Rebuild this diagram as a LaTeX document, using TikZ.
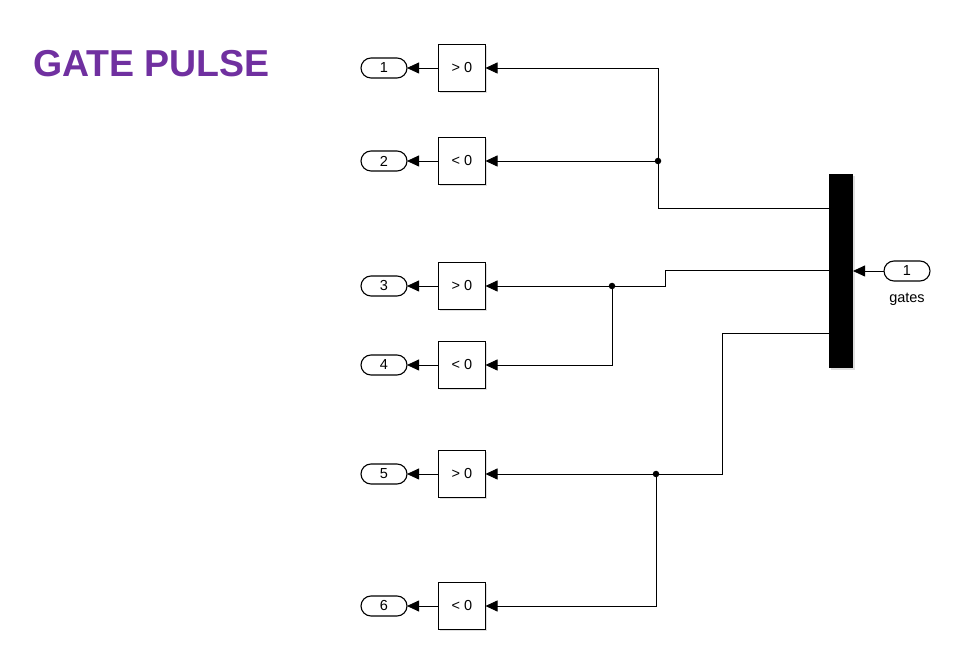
\documentclass[tikz,border=0pt]{standalone}
\usepackage{fontspec}
\setmainfont{Liberation Sans}
\usetikzlibrary{positioning,arrows.meta,shadows}
\definecolor{gatepurple}{RGB}{112,48,160}

\begin{document}
\begin{tikzpicture}
[x=1pt,y=1pt,
 every node/.style={inner sep=0pt,outer sep=0pt,font=\fontsize{14.5pt}{16pt}\selectfont},
 cmp/.style={rectangle,draw=black,line width=0.9pt,fill=white,minimum size=47pt,
             drop shadow={shadow xshift=1.5pt,shadow yshift=-1.5pt,opacity=0.25}},
 port/.style={rectangle,draw=black,line width=1.1pt,fill=white,rounded corners=10pt,
              minimum width=46pt,minimum height=20pt},
 bus/.style={rectangle,fill=black,minimum width=24pt,minimum height=194pt,
             drop shadow={shadow xshift=2pt,shadow yshift=-2pt,opacity=0.25}},
 dot/.style={circle,fill=black,minimum size=6.5pt},
 wire/.style={line width=0.8pt},
 sig/.style={wire,-{Triangle[length=12pt,width=11pt]}}]
\useasboundingbox (0,0) rectangle (971,664);

\node[anchor=base west,font=\fontsize{37.5pt}{40pt}\selectfont\bfseries,text=gatepurple]
     (title) at (33,587) {GATE PULSE};

% compare blocks
\node[cmp] (g1) at (462,596)                {> 0};
\node[cmp] (g2) [on grid,below=93pt of g1]  {< 0};
\node[cmp] (g3) [on grid,below=125pt of g2] {> 0};
\node[cmp] (g4) [on grid,below=79pt of g3]  {< 0};
\node[cmp] (g5) [on grid,below=109pt of g4] {> 0};
\node[cmp] (g6) [on grid,below=132pt of g5] {< 0};

% outports
\node[port] (o1) [on grid,left=78pt of g1] {1};
\node[port] (o2) [on grid,left=78pt of g2] {2};
\node[port] (o3) [on grid,left=78pt of g3] {3};
\node[port] (o4) [on grid,left=78pt of g4] {4};
\node[port] (o5) [on grid,left=78pt of g5] {5};
\node[port] (o6) [on grid,left=78pt of g6] {6};

% demux and inport
\node[bus]  (dmx) at (841,393) {};
\node[port] (in1) [on grid,right=66pt of dmx] {1};
\node       (lbl) [on grid,below=28pt of in1] {gates};

\coordinate (d1) at (829,456);
\coordinate (d2) at (829,394);
\coordinate (d3) at (829,331);
\coordinate (b2) at (665,378);
\coordinate (b3) at (722,190);

\node[dot] (j1) at (658,503) {};
\node[dot] (j2) at (612,378) {};
\node[dot] (j3) at (656,190) {};

\path[sig] (g1) edge (o1);
\path[sig] (g2) edge (o2);
\path[sig] (g3) edge (o3);
\path[sig] (g4) edge (o4);
\path[sig] (g5) edge (o5);
\path[sig] (g6) edge (o6);
\path[sig] (in1) edge (dmx.east |- in1);

\draw[wire] (d1) -| (j1);
\draw[sig]  (j1) |- (g1.east);
\draw[sig]  (j1) -- (g2.east);
\draw[sig]  (d2) -| (b2) -- (g3.east);
\draw[sig]  (j2) |- (g4.east);
\draw[sig]  (d3) -| (b3) -- (g5.east);
\draw[sig]  (j3) |- (g6.east);
\end{tikzpicture}
\end{document}
